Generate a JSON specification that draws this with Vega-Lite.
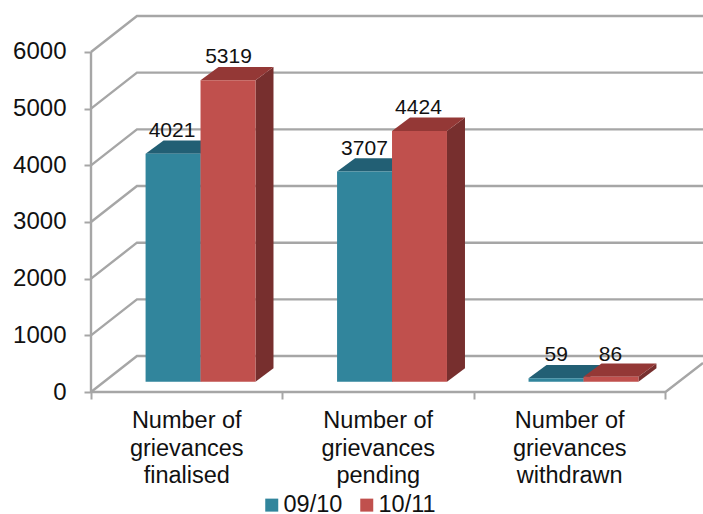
{
"$schema":"https://vega.github.io/schema/vega-lite/v6.json",
"width":612,"height":376,
"autosize":{"type":"none"},
"padding":{"left":91,"top":16,"right":0,"bottom":122},
"background":"white",
"config":{"view":{"stroke":null},"font":"Liberation Sans"},
"datasets":{
"grid":[
{"id":"g0","x":0,"y":0},{"id":"g0","x":0.24,"y":635},{"id":"g0","x":3.196,"y":635},
{"id":"g1","x":0,"y":1000},{"id":"g1","x":0.24,"y":1635},{"id":"g1","x":3.196,"y":1635},
{"id":"g2","x":0,"y":2000},{"id":"g2","x":0.24,"y":2635},{"id":"g2","x":3.196,"y":2635},
{"id":"g3","x":0,"y":3000},{"id":"g3","x":0.24,"y":3635},{"id":"g3","x":3.196,"y":3635},
{"id":"g4","x":0,"y":4000},{"id":"g4","x":0.24,"y":4635},{"id":"g4","x":3.196,"y":4635},
{"id":"g5","x":0,"y":5000},{"id":"g5","x":0.24,"y":5635},{"id":"g5","x":3.196,"y":5635},
{"id":"g6","x":0,"y":6000},{"id":"g6","x":0.24,"y":6635},{"id":"g6","x":3.196,"y":6635},
{"id":"floor","x":0,"y":0},{"id":"floor","x":3,"y":0},{"id":"floor","x":3.196,"y":512},
{"id":"wall","x":0,"y":0},{"id":"wall","x":0,"y":6000}
],
"sides":[
{"id":"a1","face":"side 09/10","x":0.572,"y":182,"y2":4203},{"id":"a1","face":"side 09/10","x":0.666,"y":418,"y2":4439},
{"id":"b1","face":"side 10/11","x":0.859,"y":182,"y2":5501},{"id":"b1","face":"side 10/11","x":0.953,"y":418,"y2":5737},
{"id":"a2","face":"side 09/10","x":1.572,"y":182,"y2":3889},{"id":"a2","face":"side 09/10","x":1.666,"y":418,"y2":4125},
{"id":"b2","face":"side 10/11","x":1.859,"y":182,"y2":4606},{"id":"b2","face":"side 10/11","x":1.953,"y":418,"y2":4842},
{"id":"a3","face":"side 09/10","x":2.572,"y":182,"y2":241},{"id":"a3","face":"side 09/10","x":2.666,"y":418,"y2":477},
{"id":"b3","face":"side 10/11","x":2.859,"y":182,"y2":268},{"id":"b3","face":"side 10/11","x":2.953,"y":418,"y2":504}
],
"tops":[
{"id":"a1","face":"top 09/10","y":4203,"x":0.285,"x2":0.572},{"id":"a1","face":"top 09/10","y":4439,"x":0.379,"x2":0.666},
{"id":"b1","face":"top 10/11","y":5501,"x":0.572,"x2":0.859},{"id":"b1","face":"top 10/11","y":5737,"x":0.666,"x2":0.953},
{"id":"a2","face":"top 09/10","y":3889,"x":1.285,"x2":1.572},{"id":"a2","face":"top 09/10","y":4125,"x":1.379,"x2":1.666},
{"id":"b2","face":"top 10/11","y":4606,"x":1.572,"x2":1.859},{"id":"b2","face":"top 10/11","y":4842,"x":1.666,"x2":1.953},
{"id":"a3","face":"top 09/10","y":241,"x":2.285,"x2":2.572},{"id":"a3","face":"top 09/10","y":477,"x":2.379,"x2":2.666},
{"id":"b3","face":"top 10/11","y":268,"x":2.572,"x2":2.859},{"id":"b3","face":"top 10/11","y":504,"x":2.666,"x2":2.953}
],
"bars":[
{"category":"Number of grievances finalised","series":"09/10","value":4021,"x":0.285,"x2":0.572,"y":182,"y2":4203},
{"category":"Number of grievances finalised","series":"10/11","value":5319,"x":0.572,"x2":0.859,"y":182,"y2":5501},
{"category":"Number of grievances pending","series":"09/10","value":3707,"x":1.285,"x2":1.572,"y":182,"y2":3889},
{"category":"Number of grievances pending","series":"10/11","value":4424,"x":1.572,"x2":1.859,"y":182,"y2":4606},
{"category":"Number of grievances withdrawn","series":"09/10","value":59,"x":2.285,"x2":2.572,"y":182,"y2":241},
{"category":"Number of grievances withdrawn","series":"10/11","value":86,"x":2.572,"x2":2.859,"y":182,"y2":268}
],
"valueLabels":[
{"value":4021,"x":0.423,"y":4505},{"value":5319,"x":0.718,"y":5806},
{"value":3707,"x":1.428,"y":4182},{"value":4424,"x":1.71,"y":4906},
{"value":59,"x":2.429,"y":552},{"value":86,"x":2.713,"y":552}
],
"categories":[
{"label":"Number of\ngrievances\nfinalised","x":0.5,"y":0},
{"label":"Number of\ngrievances\npending","x":1.5,"y":0},
{"label":"Number of\ngrievances\nwithdrawn","x":2.5,"y":0}
]
},
"encoding":{
"x":{"field":"x","type":"quantitative","scale":{"domain":[0,3.196],"nice":false,"zero":false},
"axis":{"title":null,"grid":false,"domain":false,"labels":false,"values":[0,1,2,3],"tickSize":7,"tickWidth":2,"tickColor":"#a6a6a6"}},
"y":{"field":"y","type":"quantitative","scale":{"domain":[0,6635],"nice":false,"zero":false},
"axis":{"title":null,"grid":false,"domain":false,"values":[0,1000,2000,3000,4000,5000,6000],"format":"d","tickSize":7,"tickWidth":2,"tickColor":"#a6a6a6","labelFont":"Liberation Sans","labelFontSize":24,"labelColor":"#111111","labelPadding":18}}
},
"layer":[
{"data":{"name":"grid"},"mark":{"type":"line","stroke":"#a6a6a6","strokeWidth":2.4,"interpolate":"linear"},"encoding":{"detail":{"field":"id"}}},
{"data":{"name":"sides"},"mark":{"type":"area","orient":"vertical"},"encoding":{"y2":{"field":"y2"},"detail":{"field":"id"},
"fill":{"field":"face","type":"nominal","legend":null,"scale":{"domain":["side 09/10","side 10/11","top 09/10","top 10/11"],"range":["#215c70","#772f2e","#225f74","#943836"]}}}},
{"data":{"name":"tops"},"mark":{"type":"area","orient":"horizontal"},"encoding":{"x2":{"field":"x2"},"detail":{"field":"id"},
"fill":{"field":"face","type":"nominal","legend":null,"scale":{"domain":["side 09/10","side 10/11","top 09/10","top 10/11"],"range":["#215c70","#772f2e","#225f74","#943836"]}}}},
{"data":{"name":"bars"},"mark":{"type":"rect"},"encoding":{"x2":{"field":"x2"},"y2":{"field":"y2"},
"color":{"field":"series","type":"nominal","scale":{"domain":["09/10","10/11"],"range":["#31859c","#c0504d"]},
"legend":{"title":null,"orient":"none","legendX":169,"legendY":477,"direction":"horizontal","padding":0,"symbolType":"square","symbolSize":169,"symbolStrokeWidth":0,"labelFont":"Liberation Sans","labelFontSize":23.5,"labelColor":"#111111","labelOffset":0,"columnPadding":12}}}},
{"data":{"name":"valueLabels"},"mark":{"type":"text","font":"Liberation Sans","fontSize":21,"color":"#111111","baseline":"alphabetic","align":"center"},"encoding":{"text":{"field":"value","type":"quantitative","format":"d"}}},
{"data":{"name":"categories"},"mark":{"type":"text","font":"Liberation Sans","fontSize":23.5,"color":"#111111","align":"center","baseline":"alphabetic","lineBreak":"\n","lineHeight":27.5,"dy":36},"encoding":{"text":{"field":"label"}}}
]
}
